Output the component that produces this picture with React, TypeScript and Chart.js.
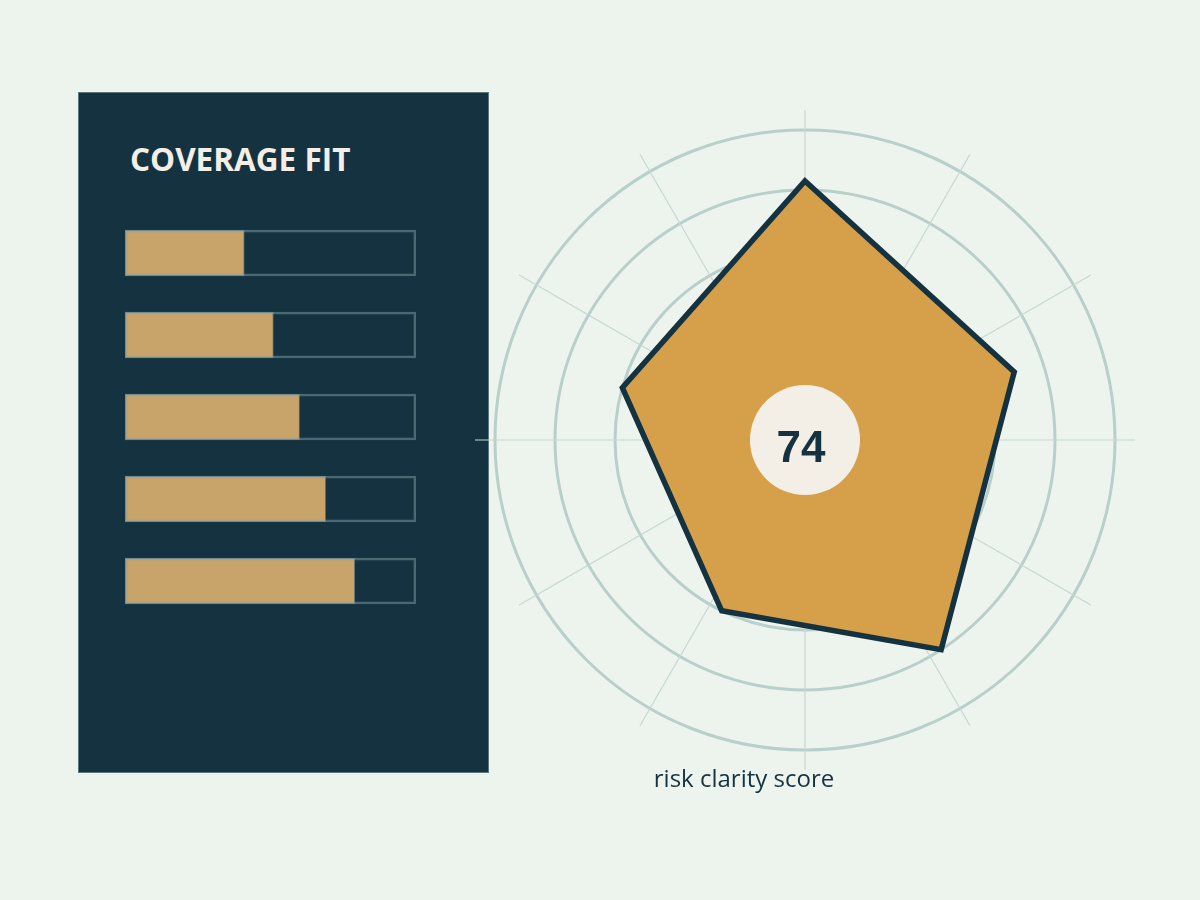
import React, { useEffect, useRef } from "react";
import { Chart, registerables } from "chart.js";

Chart.register(...registerables);

// ---- data ----
const coverageCategories = ["A", "B", "C", "D", "E"];
const coverageValues = [41, 51, 60, 69, 79];
const coverageTrack = [100, 100, 100, 100, 100];

const radarAxes = ["axis 1", "axis 2", "axis 3", "axis 4", "axis 5"];
// angle of each vertex, degrees clockwise from the top
const radarAngles = [0, 72, 147, 206, 286];
const radarValues = [83, 70, 80, 60, 60];
const radarTicks = [20, 40, 60, 80, 100];
const spokeEveryDeg = 30;
const centerScore = "74";
const panelTitle = "COVERAGE FIT";
const radarCaption = "risk clarity score";

const BG = "#EDF4EE";
const DARK = "#143240";
const TAN = "#C8A46B";
const GOLD = "#D6A04A";
const CREAM = "#F3EFE6";

// radar uses one angular slot per degree so vertices and grid spokes can sit anywhere
const SLOTS = 360;
const radarLabels: string[] = Array.from({ length: SLOTS }, (_, i) => {
  const k = radarAngles.indexOf(i);
  return k >= 0 ? radarAxes[k] : "";
});
const radarSlotData: (number | null)[] = Array.from({ length: SLOTS }, (_, i) => {
  const k = radarAngles.indexOf(i);
  return k >= 0 ? radarValues[k] : null;
});

function BarsChart() {
  const ref = useRef<HTMLCanvasElement>(null);
  useEffect(() => {
    const chart = new Chart(ref.current!, {
      type: "bar",
      data: {
        labels: coverageCategories,
        datasets: [
          {
            data: coverageTrack,
            backgroundColor: "rgba(0,0,0,0)",
            borderColor: "rgba(130,160,165,0.5)",
            borderWidth: 2,
            borderSkipped: false,
            grouped: false,
            barThickness: 46,
          } as any,
          {
            data: coverageValues,
            backgroundColor: TAN,
            borderColor: "rgba(130,160,165,0.5)",
            borderWidth: 1,
            borderSkipped: false,
            grouped: false,
            barThickness: 46,
          } as any,
        ],
      },
      options: {
        indexAxis: "y",
        responsive: false,
        animation: false,
        events: [],
        layout: { padding: 0 },
        plugins: { legend: { display: false }, tooltip: { enabled: false } },
        scales: {
          x: { display: false, min: 0, max: 100 },
          y: { display: false },
        },
      },
    });
    return () => chart.destroy();
  }, []);
  return (
    <canvas
      ref={ref}
      width={291}
      height={410}
      style={{ position: "absolute", left: 125, top: 212, width: 291, height: 410 }}
    />
  );
}

const badgePlugin = {
  id: "badge",
  afterDatasetsDraw(chart: any) {
    const s = chart.scales.r;
    const ctx = chart.ctx;
    const cx = s.xCenter;
    const cy = s.yCenter;
    ctx.save();
    ctx.beginPath();
    ctx.arc(cx, cy, 55, 0, Math.PI * 2);
    ctx.fillStyle = CREAM;
    ctx.fill();
    ctx.fillStyle = DARK;
    ctx.font = "bold 44px 'Liberation Sans', Arial, sans-serif";
    ctx.textAlign = "center";
    ctx.textBaseline = "alphabetic";
    ctx.fillText(centerScore, cx - 4, cy + 22);
    ctx.restore();
  },
};

function RadarChart() {
  const ref = useRef<HTMLCanvasElement>(null);
  useEffect(() => {
    const chart = new Chart(ref.current!, {
      type: "radar",
      data: {
        labels: radarLabels,
        datasets: [
          {
            data: radarSlotData,
            spanGaps: true,
            backgroundColor: GOLD,
            borderColor: DARK,
            borderWidth: 5.5,
            borderJoinStyle: "miter",
            fill: "start",
            pointRadius: 0,
            pointHoverRadius: 0,
          } as any,
        ],
      },
      options: {
        responsive: false,
        animation: false,
        events: [],
        layout: { padding: 0 },
        plugins: { legend: { display: false }, tooltip: { enabled: false } },
        scales: {
          r: {
            min: -10 / 3,
            max: 320 / 3,
            afterBuildTicks: (scale: any) => {
              scale.ticks = radarTicks.map((v) => ({ value: v }));
            },
            ticks: { display: false },
            pointLabels: { display: false },
            grid: { circular: true, color: "#B9CFCA", lineWidth: 3 },
            angleLines: {
              display: true,
              color: (c: any) =>
                c.index % spokeEveryDeg === 0 ? "#C6D7D2" : "rgba(0,0,0,0)",
              lineWidth: (c: any) => (c.index % spokeEveryDeg === 0 ? 1.2 : 0),
            },
          } as any,
        },
      },
      plugins: [badgePlugin],
    });
    return () => chart.destroy();
  }, []);
  return (
    <canvas
      ref={ref}
      width={660}
      height={660}
      style={{ position: "absolute", left: 475, top: 110, width: 660, height: 660 }}
    />
  );
}

export default function App() {
  return (
    <div
      style={{
        position: "fixed",
        left: 0,
        top: 0,
        width: 1200,
        height: 900,
        background: BG,
        overflow: "hidden",
      }}
    >
      <div
        style={{
          position: "absolute",
          left: 78,
          top: 92,
          width: 411,
          height: 681,
          boxSizing: "border-box",
          background: DARK,
          border: "1.5px solid #5A777D",
        }}
      />
      <div
        style={{
          position: "absolute",
          left: 130,
          top: 137,
          fontFamily: "'Open Sans', sans-serif",
          fontWeight: 700,
          fontSize: 31.5,
          lineHeight: "44px",
          color: CREAM,
          whiteSpace: "nowrap",
        }}
      >
        {panelTitle}
      </div>
      <BarsChart />
      <RadarChart />
      <div
        style={{
          position: "absolute",
          left: 544,
          width: 400,
          top: 761,
          textAlign: "center",
          fontFamily: "'Open Sans', sans-serif",
          fontSize: 24,
          lineHeight: "34px",
          color: DARK,
          whiteSpace: "nowrap",
        }}
      >
        {radarCaption}
      </div>
    </div>
  );
}
